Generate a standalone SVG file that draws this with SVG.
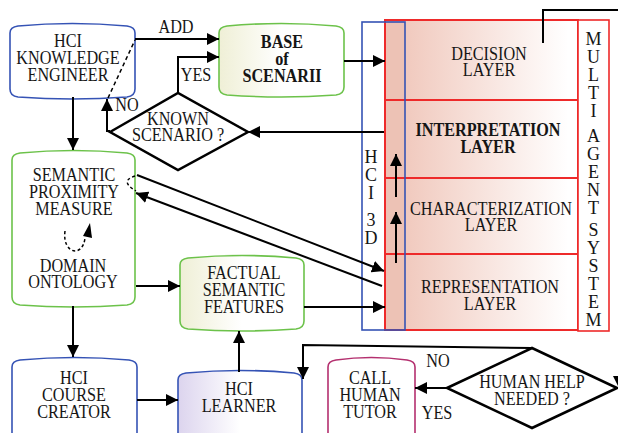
<svg xmlns="http://www.w3.org/2000/svg" width="618" height="433" viewBox="0 0 618 433">
<style>
.t{font-family:"Liberation Serif","Times New Roman",serif;font-size:18px;text-anchor:middle;fill:#151515}
.b{font-weight:bold}
.v{font-family:"Liberation Serif","Times New Roman",serif;font-size:18px;fill:#151515;writing-mode:vertical-rl;text-orientation:upright;letter-spacing:-2px}
.c{fill:none;stroke:#000;stroke-width:2}
.d{fill:#fff;stroke:#000;stroke-width:2.5;stroke-linejoin:miter}
.blue{stroke:#3553b5;stroke-width:1.6}
.green{stroke:#6cc24a;stroke-width:1.6}
.mag{stroke:#b4306f;stroke-width:1.6}
.red{stroke:#ee2a2a;stroke-width:2;fill:none}
</style>
<defs>
<marker id="ah" markerUnits="userSpaceOnUse" markerWidth="12" markerHeight="12" refX="12" refY="6" orient="auto">
<path d="M0,0 L12,6 L0,12 Z" fill="#000"/>
</marker>
<linearGradient id="cream" x1="0" y1="0" x2="1" y2="0">
<stop offset="0" stop-color="#efefd6"/><stop offset="0.5" stop-color="#ffffff"/>
</linearGradient>
<linearGradient id="lav" x1="0" y1="0" x2="1" y2="0">
<stop offset="0" stop-color="#dcd4ee"/><stop offset="0.5" stop-color="#ffffff"/>
</linearGradient>
<linearGradient id="layer" gradientUnits="userSpaceOnUse" x1="385" y1="0" x2="578" y2="0">
<stop offset="0" stop-color="#efc3b6"/><stop offset="0.95" stop-color="#ffffff"/>
</linearGradient>
</defs>

<g id="ke">
<path class="blue" fill="#fff" d="M10,33 Q10,27 18,26 Q72,21 127,26 Q135,27 135,33 V89 Q135,96 127,97 Q72,101 18,97 Q10,96 10,89 Z"/>
<text class="t" transform="translate(68,47) scale(0.9,1)"><tspan x="0" y="0">HCI</tspan><tspan x="0" y="17">KNOWLEDGE</tspan><tspan x="0" y="34">ENGINEER</tspan></text>
</g>

<g id="base">
<path class="green" fill="url(#cream)" d="M219,33 Q219,27 227,26 Q281,21 336,26 Q344,27 344,33 V87 Q344,94 336,95 Q281,99 227,95 Q219,94 219,87 Z"/>
<text class="t b" transform="translate(282,48) scale(0.9,1)"><tspan x="0" y="0">BASE</tspan><tspan x="0" y="17">of</tspan><tspan x="0" y="34">SCENARII</tspan></text>
</g>

<g id="known">
<polygon class="d" points="110,132 178,93 248,132 178,170"/>
<text class="t" transform="translate(178,124.5) scale(0.9,1)"><tspan x="0" y="0">KNOWN</tspan><tspan x="0" y="17">SCENARIO ?</tspan></text>
</g>

<g id="semantic">
<path class="green" fill="#fff" d="M12,160 Q12,154 20,153 Q73,148 127,153 Q135,154 135,160 V297 Q135,304 127,305 Q73,309 20,305 Q12,304 12,297 Z"/>
<text class="t" transform="translate(74,181) scale(0.9,1)"><tspan x="0" y="0">SEMANTIC</tspan><tspan x="0" y="17">PROXIMITY</tspan><tspan x="0" y="34">MEASURE</tspan></text>
<text class="t" transform="translate(73,271.5) scale(0.9,1)"><tspan x="0" y="0">DOMAIN</tspan><tspan x="0" y="17">ONTOLOGY</tspan></text>
<path d="M65,231 C62,254 83,258 85,238" fill="none" stroke="#000" stroke-width="1.5" stroke-dasharray="3,2.5"/>
<polygon points="83,236 90,223 92,238" fill="#000"/>
<path d="M135,176 Q119,181 136,191" fill="none" stroke="#000" stroke-width="1.4" stroke-dasharray="3,2.5"/>
</g>

<g id="factual">
<path class="green" fill="url(#cream)" d="M180,265 Q180,259 188,258 Q242,253 296,258 Q304,259 304,265 V321 Q304,328 296,329 Q242,333 188,329 Q180,328 180,321 Z"/>
<text class="t" transform="translate(244,279) scale(0.9,1)"><tspan x="0" y="0">FACTUAL</tspan><tspan x="0" y="17">SEMANTIC</tspan><tspan x="0" y="34">FEATURES</tspan></text>
</g>

<g id="layers">
<rect x="385" y="20" width="193" height="310" fill="url(#layer)"/>
<rect x="385" y="20" width="20" height="310" fill="#edc2b5"/>
<rect class="red" x="385" y="20" width="193" height="80"/>
<rect class="red" x="385" y="100" width="193" height="78"/>
<rect class="red" x="385" y="178" width="193" height="76"/>
<rect class="red" x="385" y="254" width="193" height="76"/>
<text class="t" transform="translate(489,59.5) scale(0.9,1)"><tspan x="0" y="0">DECISION</tspan><tspan x="0" y="17">LAYER</tspan></text>
<text class="t b" transform="translate(488,136) scale(0.9,1)"><tspan x="0" y="0">INTERPRETATION</tspan><tspan x="0" y="17">LAYER</tspan></text>
<text class="t" transform="translate(491,214.5) scale(0.9,1)"><tspan x="0" y="0">CHARACTERIZATION</tspan><tspan x="0" y="17">LAYER</tspan></text>
<text class="t" transform="translate(490,293) scale(0.9,1)"><tspan x="0" y="0">REPRESENTATION</tspan><tspan x="0" y="17">LAYER</tspan></text>
</g>

<g id="hci3d">
<rect x="362" y="22" width="43" height="308" fill="none" stroke="#3553b5" stroke-width="1.6"/>
<text class="v" x="371" y="147">HCI</text>
<text class="v" x="371" y="210">3D</text>
</g>

<g id="mas">
<rect x="578" y="20" width="31" height="311" fill="#fff" stroke="#ee2a2a" stroke-width="1.6"/>
<text class="v" x="593.5" y="29">MULTI</text>
<text class="v" x="593.5" y="126">AGENT</text>
<text class="v" x="593.5" y="220">SYSTEM</text>
</g>

<g id="course">
<path class="blue" fill="#fff" d="M12,367 Q12,361 20,360 Q74,355 129,360 Q137,361 137,367 V450 H12 Z"/>
<text class="t" transform="translate(74,384) scale(0.9,1)"><tspan x="0" y="0">HCI</tspan><tspan x="0" y="17">COURSE</tspan><tspan x="0" y="34">CREATOR</tspan></text>
</g>

<g id="learner">
<path class="blue" fill="url(#lav)" d="M178,380 Q178,374 186,373 Q240,368 294,373 Q302,374 302,380 V450 H178 Z"/>
<text class="t" transform="translate(239,395) scale(0.9,1)"><tspan x="0" y="0">HCI</tspan><tspan x="0" y="17">LEARNER</tspan></text>
</g>

<g id="tutor">
<path class="mag" fill="#fff" d="M328,367 Q328,361 336,360 Q371,355 407,360 Q415,361 415,367 V450 H328 Z"/>
<text class="t" transform="translate(370,384) scale(0.9,1)"><tspan x="0" y="0">CALL</tspan><tspan x="0" y="17">HUMAN</tspan><tspan x="0" y="34">TUTOR</tspan></text>
</g>

<g id="help">
<polygon class="d" points="447,388 532,348 617,388 532,428"/>
<text class="t" transform="translate(532,388) scale(0.9,1)"><tspan x="0" y="0">HUMAN HELP</tspan><tspan x="0" y="17">NEEDED ?</tspan></text>
</g>

<g id="connectors">
<path class="c" d="M135,39 H219" marker-end="url(#ah)"/>
<path class="c" d="M178,93 V57 H219" marker-end="url(#ah)"/>
<path class="c" d="M110,131 H107 V99" marker-end="url(#ah)"/>
<path d="M108,98 L135,40" fill="none" stroke="#000" stroke-width="1.5" stroke-dasharray="4,3"/>
<path class="c" d="M344,61 H385" marker-end="url(#ah)"/>
<path class="c" d="M384,132 H248" marker-end="url(#ah)"/>
<path class="c" d="M73,97 V150" marker-end="url(#ah)"/>
<path class="c" d="M73,306 V357" marker-end="url(#ah)"/>
<path class="c" d="M136,286 H180" marker-end="url(#ah)"/>
<path class="c" d="M304,307 H385" marker-end="url(#ah)"/>
<path class="c" d="M137,175 L384,271" marker-end="url(#ah)"/>
<path class="c" d="M382,286 L136,193" marker-end="url(#ah)"/>
<path class="c" d="M396,197 V154" marker-end="url(#ah)"/>
<path class="c" d="M396,263 V212" marker-end="url(#ah)"/>
<path class="c" d="M137,400 H178" marker-end="url(#ah)"/>
<path class="c" d="M239,372 V331" marker-end="url(#ah)"/>
<path class="c" d="M532,348 L303,345 V379" marker-end="url(#ah)"/>
<path class="c" d="M447,388 H415" marker-end="url(#ah)"/>
<path class="c" d="M543,43 V10 H624 V376"/>
<polygon points="613,376 627,376 620,390" fill="#000"/>
<text class="t" transform="translate(176,33) scale(0.9,1)">ADD</text>
<text class="t" transform="translate(196,81) scale(0.9,1)">YES</text>
<text class="t" transform="translate(127,111) scale(0.9,1)">NO</text>
<text class="t" transform="translate(438,367) scale(0.9,1)">NO</text>
<text class="t" transform="translate(437,419) scale(0.9,1)">YES</text>
</g>
</svg>
